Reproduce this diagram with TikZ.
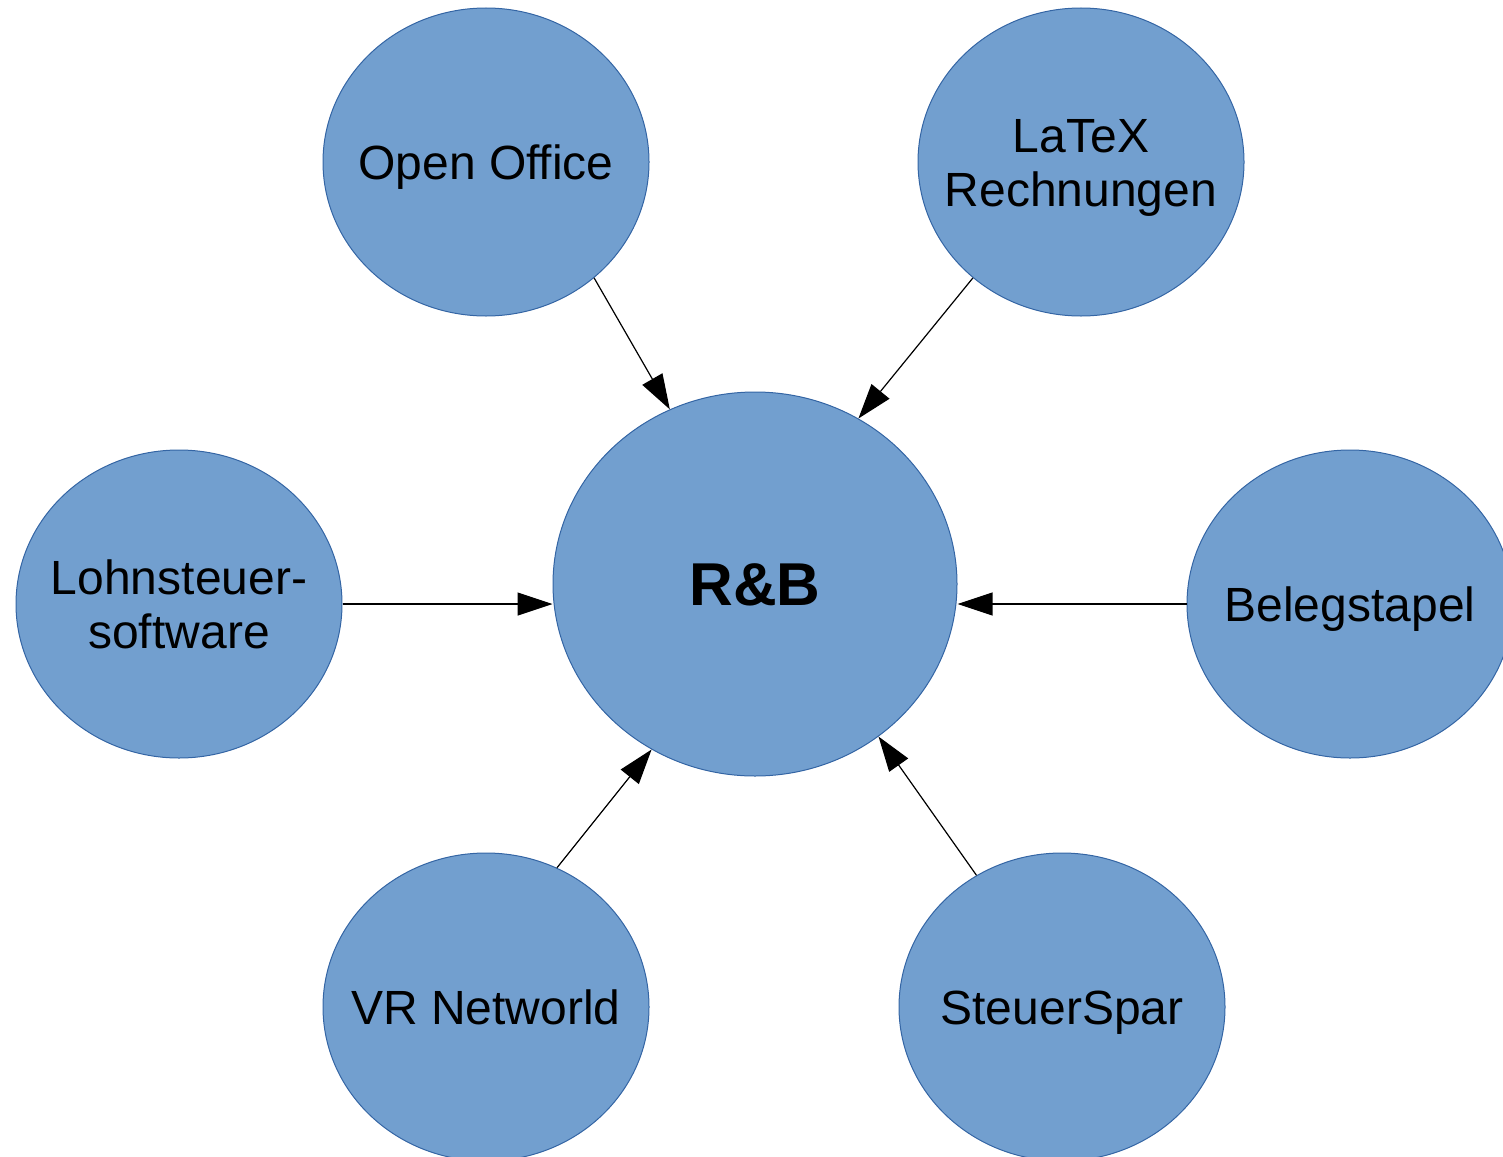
\documentclass[tikz,border=0pt]{standalone}
\usepackage{fontspec}
\setmainfont{Liberation Sans}
\usetikzlibrary{shapes.geometric,arrows.meta}
\definecolor{bubblefill}{HTML}{729FCF}
\definecolor{bubbleline}{HTML}{3465A4}
\tikzset{
  bubble/.style={ellipse, draw=bubbleline, fill=bubblefill, line width=1pt, inner sep=0pt,
    minimum width=326pt, minimum height=308pt},
  bigbubble/.style={bubble, minimum width=404pt, minimum height=384pt},
  btext/.style={align=center, font=\fontsize{48}{54}\selectfont, text=black, inner sep=0pt},
  onetext/.style={btext, text height=34.4pt, text depth=0pt},
  flow/.style={draw=black, line width=1.2pt, -{Triangle[length=35pt,width=23pt]}}
}
\begin{document}
\begin{tikzpicture}[x=1pt,y=-1pt]
\useasboundingbox (0,0) rectangle (1503,1156);
\node[bigbubble, label={[font=\bfseries\fontsize{60.5}{66}\selectfont, inner sep=0pt, text height=43.3pt, text depth=0pt]center:R\&B}] (rb) at (755,584) {};
\node[bubble, label={[onetext]center:Open Office}] (oo) at (486,162) {};
\node[bubble, label={[btext, yshift=-5.5pt]center:LaTeX\\Rechnungen}] (latex) at (1081,162) {};
\node[bubble, label={[btext]center:Lohnsteuer-\\software}] (lohn) at (179,604) {};
\node[bubble, label={[onetext]center:Belegstapel}] (beleg) at (1350,604) {};
\node[bubble, label={[onetext]center:VR Networld}] (vr) at (486,1007) {};
\node[bubble, label={[onetext]center:SteuerSpar}] (steuer) at (1062,1007) {};
\draw[flow] (oo.-47) -- (rb.116.6);
\draw[flow] (latex.227.6) -- (rb.58.4);
\draw[flow] (lohn.east) -- (rb.west |- lohn.east);
\draw[flow] (beleg.west) -- (rb.east |- beleg.west);
\draw[flow] (vr.63.3) -- (rb.238.4);
\draw[flow] (steuer.123.2) -- (rb.-51.3);
\end{tikzpicture}
\end{document}
